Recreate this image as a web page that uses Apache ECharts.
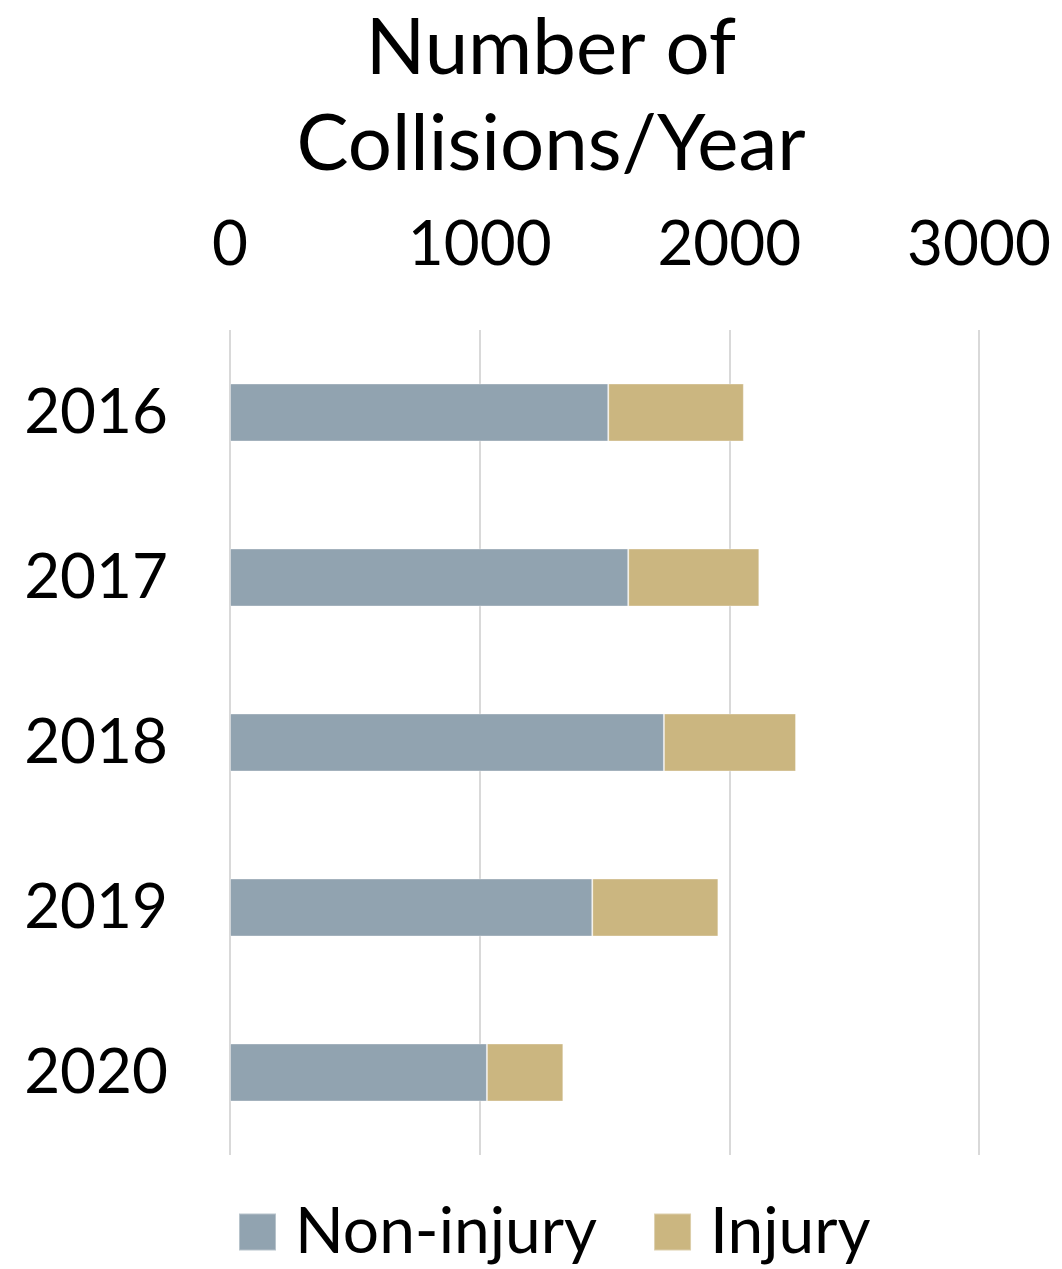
<!DOCTYPE html>
<html>
<head>
<meta charset="utf-8">
<script src="https://cdn.jsdelivr.net/npm/echarts@6/dist/echarts.min.js"></script>
<style>
html,body{margin:0;padding:0;background:#fff;}
#chart{width:1062px;height:1269px;}
</style>
</head>
<body>
<div id="chart"></div>
<script>
const years = ['2016', '2017', '2018', '2019', '2020'];
const nonInjury = [1515, 1595, 1738, 1451, 1029];
const injury = [543, 525, 529, 505, 306];
const xTicks = [0, 1000, 2000, 3000];
const seriesNames = ['Non-injury', 'Injury'];

const FONT = 'Lato';
const chart = echarts.init(document.getElementById('chart'));
chart.setOption({
  animation: false,
  backgroundColor: '#fff',
  title: {
    text: 'Number of\nCollisions/Year',
    left: 546,
    top: -4,
    textAlign: 'center',
    textStyle: { fontFamily: FONT, fontSize: 78, fontWeight: 'normal', color: '#000', lineHeight: 96 }
  },
  legend: {
    data: seriesNames,
    left: 233,
    top: 1195,
    itemWidth: 37,
    itemHeight: 37,
    itemGap: 56,
    icon: 'rect',
    textStyle: { fontFamily: FONT, fontSize: 64, color: '#000', padding: [0, 0, 0, 14] }
  },
  grid: { left: 230, right: 83, top: 330, bottom: 114 },
  xAxis: {
    type: 'value',
    position: 'top',
    min: xTicks[0],
    max: xTicks[xTicks.length - 1],
    interval: 1000,
    axisLine: { show: false },
    axisTick: { show: false },
    splitLine: { lineStyle: { color: '#d9d9d9', width: 2 } },
    axisLabel: { fontFamily: FONT, fontSize: 62, color: '#000', margin: 54, formatter: v => String(v) }
  },
  yAxis: {
    type: 'category',
    data: years,
    inverse: true,
    axisLine: { show: false },
    axisTick: { show: false },
    axisLabel: { fontFamily: FONT, fontSize: 62, color: '#000', margin: 62 }
  },
  series: [
    {
      name: seriesNames[0], type: 'bar', stack: 'total', data: nonInjury,
      barWidth: 58,
      itemStyle: { color: '#91a3b0', borderColor: 'rgba(255,255,255,0.35)', borderWidth: 1 }
    },
    {
      name: seriesNames[1], type: 'bar', stack: 'total', data: injury,
      barWidth: 58,
      itemStyle: { color: '#cbb680', borderColor: 'rgba(255,255,255,0.35)', borderWidth: 1 }
    }
  ]
});
</script>
</body>
</html>
